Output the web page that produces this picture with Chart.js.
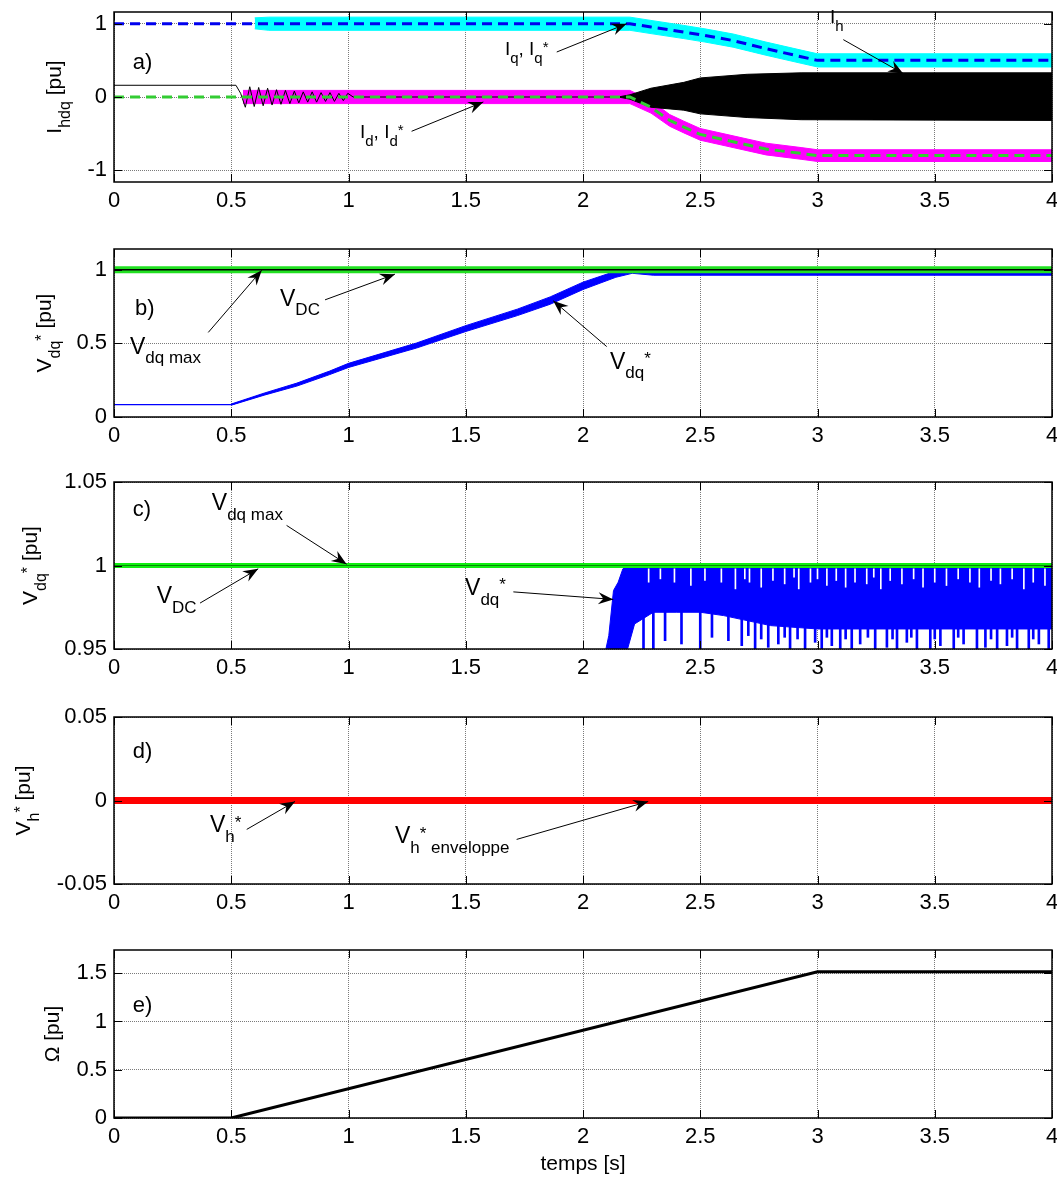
<!DOCTYPE html>
<html><head><meta charset="utf-8">
<script src="https://cdn.jsdelivr.net/npm/chart.js"></script>
<style>
html,body{margin:0;padding:0;background:#fff;}
#wrap{position:relative;width:1057px;height:1180px;overflow:hidden;background:#fff;}
canvas{position:absolute;left:0;}
</style></head><body><div id="wrap">
<canvas id="ca" width="1057" height="222" style="top:0px"></canvas>
<canvas id="cb" width="1057" height="220" style="top:237px"></canvas>
<canvas id="cc" width="1057" height="219" style="top:470px"></canvas>
<canvas id="cd" width="1057" height="219" style="top:705px"></canvas>
<canvas id="ce" width="1057" height="242" style="top:938px"></canvas>
</div>
<script>
// ================= DATA =================
const xTicks = [0, 0.5, 1, 1.5, 2, 2.5, 3, 3.5, 4];

// ---- panel a : I_hdq ----
const aTicks = [-1, 0, 1];
const iqRefT = [0, 2.2, 2.29, 2.43, 2.52, 2.64, 2.78, 2.93, 3.0, 4.0];
const iqRef  = [1, 1, 0.955, 0.887, 0.84, 0.77, 0.66, 0.55, 0.5, 0.5];
const iqBandT  = [0.6, 0.66, 2.2, 2.29, 2.43, 2.52, 2.64, 2.78, 2.93, 3.0, 4.0];
const iqBandHi = [1.08, 1.09, 1.09, 1.045, 0.977, 0.93, 0.86, 0.75, 0.64, 0.59, 0.59];
const iqBandLo = [0.93, 0.91, 0.91, 0.865, 0.797, 0.75, 0.68, 0.57, 0.46, 0.41, 0.41];
const idRefT = [0, 2.2, 2.29, 2.37, 2.43, 2.5, 2.64, 2.78, 2.93, 3.0, 4.0];
const idRef  = [0, 0, -0.14, -0.32, -0.41, -0.51, -0.61, -0.71, -0.77, -0.8, -0.8];
const idBandT  = [0.55, 2.2, 2.29, 2.37, 2.43, 2.5, 2.64, 2.78, 2.93, 3.0, 4.0];
const idBandHi = [0.09, 0.09, -0.05, -0.24, -0.33, -0.43, -0.53, -0.63, -0.69, -0.72, -0.72];
const idBandLo = [-0.09, -0.09, -0.22, -0.40, -0.49, -0.59, -0.69, -0.79, -0.85, -0.88, -0.88];
const ihT = [0, 0.52, 0.54, 0.56, 0.579, 0.598, 0.617, 0.636, 0.655, 0.674, 0.693, 0.712, 0.731, 0.75, 0.769, 0.788, 0.807, 0.826, 0.845, 0.864, 0.883, 0.902, 0.921, 0.94, 0.959, 0.978, 0.997, 1.02, 2.2];
const ih  = [0.16, 0.16, 0.05, -0.14, 0.14, -0.13, 0.13, -0.12, 0.12, -0.11, 0.1, -0.1, 0.09, -0.09, 0.08, -0.08, 0.07, -0.07, 0.07, -0.07, 0.06, -0.06, 0.06, -0.06, 0.05, -0.05, 0.05, 0, 0];
const ihBandT  = [2.15, 2.2, 2.29, 2.43, 2.5, 2.7, 2.93, 4.0];
const ihBandHi = [0, 0.03, 0.12, 0.2, 0.26, 0.31, 0.33, 0.33];
const ihBandLo = [0, -0.03, -0.14, -0.18, -0.23, -0.28, -0.31, -0.32];

// ---- panel b : V_dq* ----
const bTicks = [0, 0.5, 1];
const vdqT = [0, 0.5, 0.64, 0.78, 0.92, 1.0, 1.29, 1.5, 1.72, 1.86, 2.0, 2.14, 2.21, 2.3, 4.0];
const vdq  = [0.084, 0.084, 0.155, 0.22, 0.3, 0.35, 0.485, 0.6, 0.71, 0.79, 0.89, 0.969, 0.99, 0.98, 0.98];
const vdqBandT  = [0.5, 0.64, 0.78, 0.92, 1.0, 1.29, 1.5, 1.72, 1.86, 2.0, 2.14, 2.21, 2.3, 4.0];
const vdqBandHi = [0.088, 0.162, 0.23, 0.312, 0.364, 0.502, 0.62, 0.732, 0.815, 0.915, 0.99, 1.0, 0.995, 0.995];
const vdqBandLo = [0.08, 0.148, 0.21, 0.288, 0.336, 0.468, 0.58, 0.688, 0.765, 0.865, 0.948, 0.975, 0.962, 0.962];
const vdcT = [0, 4];
const vdc = [1, 1];
const vdqMax = [1, 1];

// ---- panel c : V_dq* zoom ----
const cTicks = [0.95, 1, 1.05];
const cBandT  = [2.09, 2.11, 2.13, 2.15, 2.17, 2.19, 2.22, 2.3, 2.4, 2.5, 2.6, 2.7, 2.8, 3.0, 3.5, 4.0];
const cBandHi = [0.945, 0.958, 0.985, 0.99, 0.998, 1.0, 1.0, 1.0, 1.0, 1.0, 1.0, 1.0, 1.0, 1.0, 1.0, 1.0];
const cBandLo = [0.945, 0.945, 0.945, 0.945, 0.945, 0.95, 0.965, 0.972, 0.972, 0.972, 0.97, 0.967, 0.964, 0.962, 0.962, 0.962];
const spikeT = [2.258, 2.30, 2.35, 2.42, 2.5, 2.55, 2.62, 2.677, 2.705, 2.734, 2.76, 2.79, 2.833, 2.86, 2.883, 2.915, 2.947, 2.99, 3.018, 3.04, 3.061, 3.097, 3.12, 3.146, 3.182, 3.215, 3.246, 3.296, 3.32, 3.339, 3.381, 3.40, 3.424, 3.481, 3.50, 3.524, 3.581, 3.60, 3.623, 3.68, 3.716, 3.74, 3.766, 3.808, 3.83, 3.851, 3.901, 3.92, 3.944, 3.986];
const spikeV = [0.95, 0.95, 0.955, 0.953, 0.95, 0.957, 0.955, 0.952, 0.958, 0.95, 0.956, 0.951, 0.953, 0.957, 0.95, 0.956, 0.95, 0.954, 0.95, 0.957, 0.952, 0.95, 0.956, 0.95, 0.953, 0.957, 0.95, 0.951, 0.956, 0.95, 0.954, 0.957, 0.95, 0.95, 0.956, 0.952, 0.95, 0.957, 0.953, 0.95, 0.951, 0.956, 0.95, 0.952, 0.957, 0.95, 0.95, 0.956, 0.953, 0.95];
const spikeTop = 0.975;
const slitT  = [2.28, 2.33, 2.39, 2.46, 2.52, 2.59, 2.65, 2.69, 2.71, 2.76, 2.81, 2.86, 2.9, 2.92, 2.97, 3.0, 3.04, 3.08, 3.12, 3.16, 3.21, 3.24, 3.27, 3.31, 3.36, 3.41, 3.45, 3.5, 3.55, 3.6, 3.65, 3.69, 3.74, 3.78, 3.83, 3.88, 3.92, 3.97];
const slitLo = [0.99, 0.992, 0.99, 0.988, 0.991, 0.99, 0.986, 0.992, 0.99, 0.987, 0.991, 0.989, 0.993, 0.986, 0.99, 0.992, 0.988, 0.991, 0.987, 0.99, 0.989, 0.993, 0.986, 0.991, 0.989, 0.992, 0.987, 0.99, 0.988, 0.992, 0.99, 0.987, 0.991, 0.989, 0.992, 0.986, 0.99, 0.988];
const slitTop = 0.998;
const vdcC = [1, 1];

// ---- panel d : V_h* ----
const dTicks = [-0.05, 0, 0.05];
const vhT = [0, 4];
const vh  = [0, 0];

// ---- panel e : Omega ----
const eTicks = [0, 0.5, 1, 1.5];
const omegaT = [0, 0.5, 3.0, 4.0];
const omega  = [0, 0, 1.515, 1.515];

// ================= HELPERS =================
const FONT = '"Liberation Sans", Arial, Helvetica, sans-serif';
const GRID = '#7a7a7a';
const TL = 8;
function pts(t, v){ return t.map((x,i)=>({x:x, y:v[i]})); }
function line(t, v, o){
  return Object.assign({type:'line', data:pts(t,v), pointRadius:0, borderWidth:1, fill:false, tension:0, borderColor:'#000'}, o||{});
}
function bars(t, lo, top, color, w){
  return {type:'bar', data:t.map((x,i)=>({x:x, y:[lo[i], top]})), backgroundColor:color, barThickness:w, grouped:false, borderWidth:0};
}
function drawRich(ctx, parts, x, y, main, sub){
  let cx = x;
  for (const p of parts){
    const txt = p[0], lvl = p[1];
    const size = lvl === 0 ? main : sub;
    ctx.font = size + 'px ' + FONT;
    const dy = lvl < 0 ? main*0.42 : (lvl > 0 ? -main*0.2 : 0);
    ctx.fillText(txt, cx, y + dy);
    cx += ctx.measureText(txt).width;
  }
  return cx - x;
}
function richWidth(ctx, parts, main, sub){
  let w = 0;
  for (const p of parts){
    ctx.font = (p[1]===0?main:sub) + 'px ' + FONT;
    w += ctx.measureText(p[0]).width;
  }
  return w;
}
function arrow(ctx, x1, y1, x2, y2){
  ctx.beginPath(); ctx.moveTo(x1,y1); ctx.lineTo(x2,y2); ctx.lineWidth=1; ctx.stroke();
  const ang = Math.atan2(y2-y1, x2-x1), c = Math.cos(ang), s = Math.sin(ang);
  const L = 15, W = 6, N = 10;
  ctx.beginPath();
  ctx.moveTo(x2, y2);
  ctx.lineTo(x2 - L*c - W*s, y2 - L*s + W*c);
  ctx.lineTo(x2 - N*c, y2 - N*s);
  ctx.lineTo(x2 - L*c + W*s, y2 - L*s - W*c);
  ctx.closePath(); ctx.fill();
}
function overlay(cfg){
  return {
    id: 'ov',
    afterDatasetsDraw(chart){
      const ctx = chart.ctx, a = chart.chartArea, xs = chart.scales.x, ys = chart.scales.y;
      ctx.save();
      ctx.fillStyle = '#000'; ctx.strokeStyle = '#000';
      ctx.lineWidth = 1.5;
      ctx.strokeRect(a.left, a.top, a.right - a.left, a.bottom - a.top);
      ctx.lineWidth = 1;
      ctx.beginPath();
      xTicks.forEach(v=>{ const px = Math.round(xs.getPixelForValue(v)) + 0.5;
        ctx.moveTo(px, a.bottom); ctx.lineTo(px, a.bottom - TL);
        ctx.moveTo(px, a.top); ctx.lineTo(px, a.top + TL); });
      cfg.yticks.forEach(v=>{ const py = Math.round(ys.getPixelForValue(v)) + 0.5;
        ctx.moveTo(a.left, py); ctx.lineTo(a.left + TL, py);
        ctx.moveTo(a.right, py); ctx.lineTo(a.right - TL, py); });
      ctx.stroke();
      ctx.textBaseline = 'middle'; ctx.textAlign = 'left';
      ctx.font = '22px ' + FONT;
      ctx.fillText(cfg.letter[0], xs.getPixelForValue(cfg.letter[1]), ys.getPixelForValue(cfg.letter[2]));
      ctx.textBaseline = 'alphabetic';
      (cfg.notes || []).forEach(n=>{
        drawRich(ctx, n.parts, xs.getPixelForValue(n.tx), ys.getPixelForValue(n.ty), n.main, n.sub);
        arrow(ctx, xs.getPixelForValue(n.from[0]), ys.getPixelForValue(n.from[1]),
                   xs.getPixelForValue(n.to[0]), ys.getPixelForValue(n.to[1]));
      });
      const cy = (a.top + a.bottom)/2;
      ctx.translate(a.left - cfg.ylabOff, cy);
      ctx.rotate(-Math.PI/2);
      const w = richWidth(ctx, cfg.ylab, 21, 16);
      drawRich(ctx, cfg.ylab, -w/2, 0, 21, 16);
      ctx.setTransform(1,0,0,1,0,0);
      if (cfg.xtitle){
        ctx.font = '21px ' + FONT; ctx.textAlign='center'; ctx.textBaseline='middle';
        ctx.fillText(cfg.xtitle, (a.left + a.right)/2, a.bottom + 46);
      }
      ctx.restore();
    }
  };
}
function makeChart(id, cfg){
  const ds = cfg.datasets.map((d,i,arr)=>Object.assign(d, {order: arr.length - i}));
  return new Chart(document.getElementById(id), {
    type: 'line',
    data: { datasets: ds },
    options: {
      responsive: false, animation: false, events: [],
      layout: { padding: { top: 12, right: 5, left: 0, bottom: 0 } },
      plugins: { legend: { display: false }, tooltip: { enabled: false } },
      scales: {
        x: { type: 'linear', min: 0, max: 4, offset: false,
             afterBuildTicks: s => { s.ticks = xTicks.map(v => ({value: v})); },
             afterFit: s => { s.height = cfg.xh; s.paddingLeft = 0; s.paddingRight = 0; },
             grid: { color: GRID, lineWidth: 1, drawTicks: false, offset: false },
             border: { display: false, dash: [1, 1] },
             ticks: { padding: 6, color: '#000', font: { family: FONT, size: 22 }, maxRotation: 0, autoSkip: false, callback: v => String(v) } },
        y: { type: 'linear', min: cfg.ymin, max: cfg.ymax, beginAtZero: false,
             afterBuildTicks: s => { s.ticks = cfg.yticks.map(v => ({value: v})); },
             afterFit: s => { s.width = 114; s.paddingTop = 0; s.paddingBottom = 0; },
             grid: { color: GRID, lineWidth: 1, drawTicks: false },
             border: { display: false, dash: [1, 1] },
             ticks: { padding: 7, color: '#000', font: { family: FONT, size: 22 }, autoSkip: false, callback: v => String(v) } }
      }
    },
    plugins: [overlay(cfg)]
  });
}

// ================= CHARTS =================
makeChart('ca', {
  ymin: -1.16, ymax: 1.16, yticks: aTicks, xh: 40, ylabOff: 53,
  ylab: [['I',0],['hdq',-1],[' [pu]',0]],
  letter: ['a)', 0.08, 0.47],
  notes: [
    {parts:[['I',0],['q',-1],[', I',0],['q',-1],['*',1]], tx:1.667, ty:0.569, from:[1.888,0.614], to:[2.186,1.0], main:19, sub:15},
    {parts:[['I',0],['d',-1],[', I',0],['d',-1],['*',1]], tx:1.049, ty:-0.565, from:[1.269,-0.468], to:[1.575,-0.068], main:19, sub:15},
    {parts:[['I',0],['h',-1]], tx:3.053, ty:1.005, from:[3.110,0.783], to:[3.366,0.319], main:19, sub:15}
  ],
  datasets: [
    line(iqBandT, iqBandHi, {borderColor:'#00ffff', backgroundColor:'#00ffff', fill:'+1'}),
    line(iqBandT, iqBandLo, {borderColor:'#00ffff'}),
    line(idBandT, idBandHi, {borderColor:'#ff00ff', backgroundColor:'#ff00ff', fill:'+1'}),
    line(idBandT, idBandLo, {borderColor:'#ff00ff'}),
    line(ihT, ih, {borderColor:'#000', borderWidth:1}),
    line(ihBandT, ihBandHi, {borderColor:'#000', backgroundColor:'#000', fill:'+1'}),
    line(ihBandT, ihBandLo, {borderColor:'#000'}),
    line(iqRefT, iqRef, {borderColor:'#0000ee', borderWidth:3, borderDash:[10,6]}),
    line(idRefT, idRef, {borderColor:'#33cc33', borderWidth:3, borderDash:[10,6]})
  ]
});

makeChart('cb', {
  ymin: 0, ymax: 1.14, yticks: bTicks, xh: 40, ylabOff: 63,
  ylab: [['V',0],['dq',-1],['*',1],[' [pu]',0]],
  letter: ['b)', 0.09, 0.73],
  notes: [
    {parts:[['V',0],['dq max',-1]], tx:0.068, ty:0.43, from:[0.402,0.574], to:[0.63,0.996], main:23, sub:17},
    {parts:[['V',0],['DC',-1]], tx:0.708, ty:0.755, from:[0.9,0.795], to:[1.198,0.969], main:23, sub:17},
    {parts:[['V',0],['dq',-1],['*',1]], tx:2.115, ty:0.329, from:[2.101,0.478], to:[1.873,0.789], main:23, sub:17}
  ],
  datasets: [
    line(vdqBandT, vdqBandHi, {borderColor:'#0000ff', backgroundColor:'#0000ff', fill:'+1'}),
    line(vdqBandT, vdqBandLo, {borderColor:'#0000ff'}),
    line(vdqT, vdq, {borderColor:'#0000ff', borderWidth:1.2}),
    line(vdcT, vdc, {borderColor:'#22e022', borderWidth:7}),
    line(vdcT, vdqMax, {borderColor:'#000', borderWidth:1.5})
  ]
});

makeChart('cc', {
  ymin: 0.95, ymax: 1.05, yticks: cTicks, xh: 40, ylabOff: 77,
  ylab: [['V',0],['dq',-1],['*',1],[' [pu]',0]],
  letter: ['c)', 0.08, 1.033],
  notes: [
    {parts:[['V',0],['dq max',-1]], tx:0.417, ty:1.033, from:[0.736,1.024], to:[0.992,1.0008], main:23, sub:17},
    {parts:[['V',0],['DC',-1]], tx:0.182, ty:0.9775, from:[0.367,0.9775], to:[0.615,0.998], main:23, sub:17},
    {parts:[['V',0],['dq',-1],['*',1]], tx:1.497, ty:0.9823, from:[1.703,0.9842], to:[2.129,0.9797], main:23, sub:17}
  ],
  datasets: [
    line(cBandT, cBandHi, {borderColor:'#0000ff', backgroundColor:'#0000ff', fill:'+1'}),
    line(cBandT, cBandLo, {borderColor:'#0000ff'}),
    bars(spikeT, spikeV, spikeTop, '#0000ff', 2),
    bars(slitT, slitLo, slitTop, '#ffffff', 1),
    line(vdcT, vdcC, {borderColor:'#11ee11', borderWidth:5}),
    line(vdcT, vdqMax, {borderColor:'#078a07', borderWidth:1})
  ]
});

makeChart('cd', {
  ymin: -0.05, ymax: 0.05, yticks: dTicks, xh: 40, ylabOff: 84,
  ylab: [['V',0],['h',-1],['*',1],[' [pu]',0]],
  letter: ['d)', 0.08, 0.0288],
  notes: [
    {parts:[['V',0],['h',-1],['*',1]], tx:0.409, ty:-0.0191, from:[0.566,-0.0173], to:[0.772,-0.0006], main:23, sub:17},
    {parts:[['V',0],['h',-1],['*',1],[' enveloppe',-1]], tx:1.198, ty:-0.0257, from:[1.717,-0.0233], to:[2.278,-0.0006], main:23, sub:17}
  ],
  datasets: [
    line(vhT, vh, {borderColor:'#ff0000', borderWidth:7})
  ]
});

makeChart('ce', {
  ymin: 0, ymax: 1.74, yticks: eTicks, xh: 62, ylabOff: 55,
  ylab: [['\u03A9 [pu]',0]],
  letter: ['e)', 0.08, 1.163],
  xtitle: 'temps [s]',
  datasets: [
    line(omegaT, omega, {borderColor:'#000', borderWidth:3})
  ]
});
</script>
</body></html>
